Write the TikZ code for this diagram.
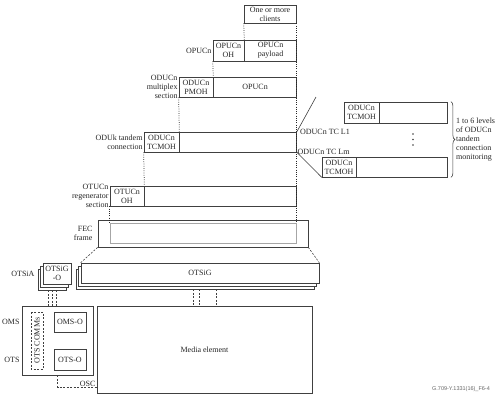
\documentclass[tikz,border=0pt]{standalone}
\usepackage{fontspec}
\setmainfont{Liberation Serif}
\newfontfamily\figidfont{Liberation Sans}
\usetikzlibrary{calc,positioning}
\usetikzlibrary{decorations.pathreplacing}

\begin{document}
\begin{tikzpicture}[
    x=1pt, y=-1pt,
    every node/.style={font=\fontsize{8}{9}\selectfont, text=black!85},
    box/.style={draw=black!75, line width=0.6pt, inner sep=0pt, align=center},
    wh/.style 2 args={minimum width=#1, minimum height=#2},
    lbl/.style={anchor=east, align=right, inner sep=1pt},
    wire/.style={draw=black!75, line width=0.6pt},
    dotlink/.style={wire, draw=black!85, line width=0.75pt, dash pattern=on 0.75pt off 1.5pt},
    dashlink/.style={wire, dash pattern=on 2pt off 1.5pt},
 ]
    \path[use as bounding box, fill=white] (0,0) rectangle (499,400);

    % OPUCn and clients
    \node[box, wh={52}{18}] (clients) at (270,14) {One or more\\clients};
    \node[box, wh={31}{21}] (opuoh) at (228.5,50.5) {OPUCn\\OH};
    \node[box, wh={52}{21}, right=0pt of opuoh] (opupl) {OPUCn\\payload};
    \node[lbl] (opulbl) at (opuoh.west) {OPUCn};

    \node[box, wh={34}{20}] (pmoh) at (196,87) {ODUCn\\PMOH};
    \node[box, wh={83}{20}, right=0pt of pmoh] (opu) {OPUCn};
    \node[lbl] (mslbl) at (pmoh.west) {ODUCn\\multiplex\\section};

    \node[box, wh={35}{20}] (tcmoh) at (161.5,142) {ODUCn\\TCMOH};
    \node[box, wh={117}{20}, right=0pt of tcmoh] (tcrest) {};
    \node[lbl] (tclbl) at (tcmoh.west) {ODUk tandem\\connection};

    \node[box, wh={34}{20}] (otuoh) at (127,196) {OTUCn\\OH};
    \node[box, wh={152}{20}, right=0pt of otuoh] (oturest) {};
    \node[lbl] (otulbl) at (otuoh.west) {OTUCn\\regenerator\\section};

    \node[box, wh={210}{27}] (fec) at (203,233.5) {};
    \node[box, draw=black!35, wh={186}{20}] (fecin) at (203,233) {};
    \node[lbl, xshift=-4pt] (feclbl) at (fec.west) {FEC\\frame};

    \draw[dotlink] (clients.south west) -- (opupl.north west);
    \draw[dotlink] (clients.south east) -- (fecin.north east);
    \draw[dotlink] (opuoh.south west) -- (opu.north west);
    \draw[dotlink] (pmoh.south west) -- (tcrest.north west);
    \draw[dotlink] (tcmoh.south west) -- (oturest.north west);
    \draw[dotlink] (otuoh.south west) -- (fecin.north west);

    % tandem connection levels
    \node[box, wh={35}{21}] (tcmaoh) at (361.5,112.5) {ODUCn\\TCMOH};
    \node[box, wh={68}{21}, right=0pt of tcmaoh] (tcmarest) {};
    \node[box, wh={34}{20}] (tcmboh) at (339,167) {ODUCn\\TCMOH};
    \node[box, wh={91}{20}, right=0pt of tcmboh] (tcmbrest) {};
    \coordinate (lonetop) at (316,97);
    \draw[wire] (tcrest.north east) -- (lonetop);
    \draw[wire] (tcrest.south east) -- (tcmboh.south west);
    \node[anchor=west, inner sep=1pt, xshift=2pt] (lonelbl) at (tcrest.north east) {ODUCn TC L1};
    \node[anchor=west, inner sep=0.5pt] (lmlbl) at (tcrest.south east) {ODUCn TC Lm};
    \foreach \y in {134,139.5,145}
        \fill[black!75] (413,\y) circle (0.9);
    \draw[wire, decorate, decoration={brace, amplitude=4pt}]
        ([xshift=3pt]tcmarest.north east) -- ([xshift=3pt]tcmbrest.south east);
    \node[anchor=west, align=left, inner sep=0pt] (levlbl) at (456,140)
        {1 to 6 levels\\of ODUCn\\tandem\\connection\\monitoring};

    % OTSiG stacks
    \foreach \k in {2,1} {
        \node[box, fill=white, wh={238}{20}] (otsig\k) at ({200-2.5*\k},{273+3*\k}) {};
        \node[box, fill=white, wh={28}{21}] (otsigo\k) at ({57-2.5*\k},{273.5+3*\k}) {};
    }
    \node[box, fill=white, wh={238}{20}] (otsig) at (200,273) {OTSiG};
    \node[box, fill=white, wh={28}{21}] (otsigo) at (57,273.5) {OTSiG\\-O};
    \node[lbl, xshift=-7pt] (otsialbl) at (otsigo.west) {OTSiA};
    \draw[dashlink] (fec.south west) -- (otsig.north west);
    \draw[dashlink] (fec.south east) -- (otsig.north east);

    % OMS / OTS and media
    \node[box, wh={71}{69}] (omsbox) at (57.5,340.5) {};
    \node[box, dashlink, rotate=90, wh={57}{12}] (comms) at (37,340.5) {OTS COMMs};
    \node[box, wh={32}{20}] (omso) at (70,322) {OMS-O};
    \node[box, wh={32}{21}] (otso) at (70,359.5) {OTS-O};
    \node[lbl, xshift=-1pt] (omslbl) at (omsbox.west |- omso) {OMS};
    \node[lbl, xshift=-1pt] (otslbl) at (omsbox.west |- otso) {OTS};
    \node[box, wh={215}{87}] (media) at (204.5,349.5) {Media element};

    \foreach \dx in {-4,0,4}
        \draw[dashlink] ($(otsigo2.south)+(\dx,0)$) -- ($(otsigo2.south |- omsbox.north)+(\dx,0)$);
    \foreach \dx in {-2,4,21}
        \draw[dashlink] ($(otsig2.south)+(\dx,0)$) -- ($(otsig2.south |- media.north)+(\dx,0)$);

    \coordinate (oscend) at ([yshift=6pt]media.south west);
    \draw[dashlink] (omsbox.south) |- (oscend);
    \node[lbl, anchor=south east] (osclbl) at (oscend) {OSC};

    \node[font=\figidfont\fontsize{5.5}{6}\selectfont, text=black!60] (figid) at (461,389) {G.709-Y.1331(16)\_F6-4};
\end{tikzpicture}
\end{document}
